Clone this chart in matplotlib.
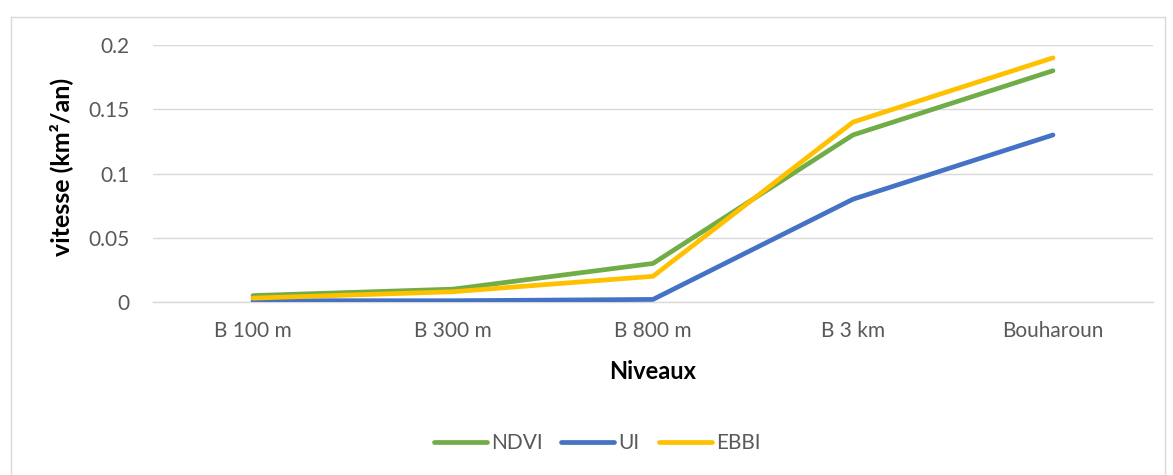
import matplotlib
matplotlib.use("Agg")
import matplotlib.pyplot as plt
from matplotlib.lines import Line2D

categories = ["B 100 m", "B 300 m", "B 800 m", "B 3 km", "Bouharoun"]
ndvi = [0.005, 0.010, 0.030, 0.130, 0.180]
ui = [0.001, 0.001, 0.002, 0.080, 0.130]
ebbi = [0.003, 0.008, 0.020, 0.140, 0.190]
yticks = [0, 0.05, 0.1, 0.15, 0.2]
ytick_labels = ["0", "0.05", "0.1", "0.15", "0.2"]

plt.rcParams['font.family'] = ['Lato', 'DejaVu Sans']
txt = "#595959"

fig = plt.figure(figsize=(11.73, 4.75), dpi=100)
ax = fig.add_axes([153/1173, 1-302/475, 1000/1173, 257/475])

x = list(range(len(categories)))
ax.plot(x, ndvi, color="#70AD47", lw=3.4, solid_capstyle="round", label="NDVI", zorder=3)
ax.plot(x, ui, color="#4472C4", lw=3.4, solid_capstyle="round", label="UI", zorder=3)
ax.plot(x, ebbi, color="#FFC000", lw=3.4, solid_capstyle="round", label="EBBI", zorder=4)

ax.set_xlim(-0.5, 4.5)
ax.set_ylim(0, 0.2)
ax.set_yticks(yticks)
ax.set_yticklabels(ytick_labels)
ax.set_xticks(x)
ax.set_xticklabels(categories)
ax.tick_params(axis='both', length=0, labelsize=15, colors=txt)
ax.tick_params(axis='y', pad=17)
ax.tick_params(axis='x', pad=14)
ax.grid(axis='y', color="#d9d9d9", lw=1)
ax.set_axisbelow(True)
for s in ["top", "right", "left"]:
    ax.spines[s].set_visible(False)
ax.spines["bottom"].set_color("#d9d9d9")
ax.spines["bottom"].set_linewidth(1)
ax.spines["bottom"].set_zorder(0)

ax.set_xlabel("Niveaux", fontsize=17, fontweight="bold", color="black", labelpad=13)
ax.set_ylabel("vitesse (km²/an)", fontsize=18, fontweight="bold", color="black", labelpad=11)
ax.yaxis.label.set_y(0.525)

handles = [Line2D([], [], color="#70AD47", lw=3.4, solid_capstyle="round"),
           Line2D([], [], color="#4472C4", lw=3.4, solid_capstyle="round"),
           Line2D([], [], color="#FFC000", lw=3.4, solid_capstyle="round")]
fig.legend(handles, ["NDVI", "UI", "EBBI"], loc="center", bbox_to_anchor=(597/1173, 1-443/475),
           ncol=3, frameon=False, fontsize=15, labelcolor=txt, handlelength=2.55,
           handletextpad=0.2, columnspacing=0.9)

# outer chart border
fig.add_artist(Line2D([11/1173, 11/1173], [0, 1-17/475], transform=fig.transFigure, color="#d9d9d9", lw=1))
fig.add_artist(Line2D([11/1173, 1165/1173], [1-17/475, 1-17/475], transform=fig.transFigure, color="#d9d9d9", lw=1))
fig.add_artist(Line2D([1165/1173, 1165/1173], [0, 1-17/475], transform=fig.transFigure, color="#d9d9d9", lw=1))

fig.savefig("out.png", dpi=100)
